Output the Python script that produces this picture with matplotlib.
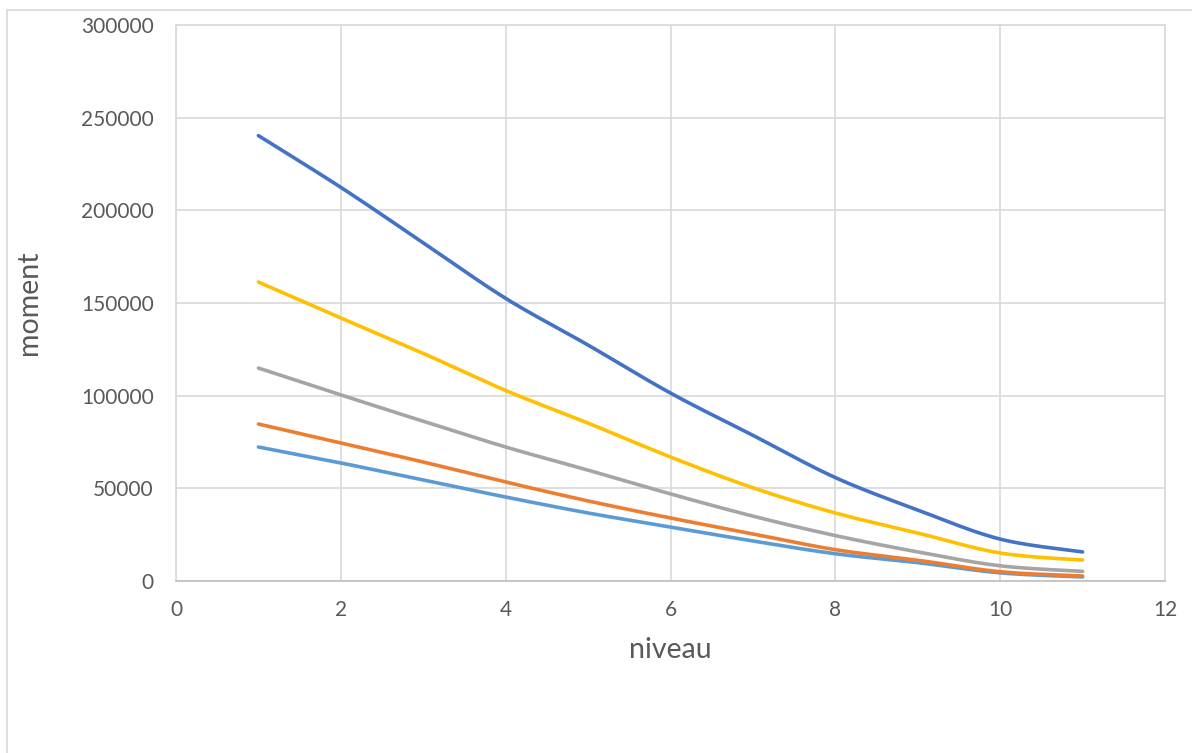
import numpy as np
import matplotlib
matplotlib.use("Agg")
import matplotlib.pyplot as plt
from matplotlib.lines import Line2D

niveau = [1, 2, 3, 4, 5, 6, 7, 8, 9, 10, 11]
s_darkblue = [240300, 212400, 182500, 152500, 127300, 101400, 78600, 55800, 38300, 22600, 15700]
s_yellow = [161300, 141900, 122800, 102800, 85200, 66900, 50300, 36700, 25900, 15100, 11300]
s_gray = [114900, 100400, 86200, 72300, 59800, 47000, 35000, 24500, 15700, 8200, 5200]
s_orange = [84700, 74500, 64200, 53400, 43200, 34000, 25400, 16900, 11200, 5000, 2700]
s_lightblue = [72300, 63700, 54500, 45300, 36700, 29100, 21600, 14700, 9900, 4400, 2200]

xticks = [0, 2, 4, 6, 8, 10, 12]
yticks = [0, 50000, 100000, 150000, 200000, 250000, 300000]

series = [
    (s_lightblue, "#5B9BD5"),
    (s_orange, "#ED7D31"),
    (s_gray, "#A5A5A5"),
    (s_yellow, "#FFC000"),
    (s_darkblue, "#4472C4"),
]

plt.rcParams['font.family'] = ['Lato', 'DejaVu Sans']


def smooth(x, y, n=30):
    # Excel-like smoothed line: cubic Bezier segments with Catmull-Rom control points
    x = np.asarray(x, float)
    y = np.asarray(y, float)
    px = np.concatenate([[x[0]], x, [x[-1]]])
    py = np.concatenate([[y[0]], y, [y[-1]]])
    xs, ys = [], []
    t = np.linspace(0, 1, n)
    for i in range(len(x) - 1):
        p0 = np.array([px[i + 1], py[i + 1]])
        p3 = np.array([px[i + 2], py[i + 2]])
        c1 = p0 + (np.array([px[i + 2], py[i + 2]]) - np.array([px[i], py[i]])) / 6
        c2 = p3 - (np.array([px[i + 3], py[i + 3]]) - np.array([px[i + 1], py[i + 1]])) / 6
        b = ((1 - t) ** 3)[:, None] * p0 + (3 * (1 - t) ** 2 * t)[:, None] * c1 \
            + (3 * (1 - t) * t ** 2)[:, None] * c2 + (t ** 3)[:, None] * p3
        xs.append(b[:, 0])
        ys.append(b[:, 1])
    return np.concatenate(xs), np.concatenate(ys)


fig = plt.figure(figsize=(11.92, 7.53), dpi=100)
ax = fig.add_axes([176 / 1192, 1 - 581 / 753, (1165 - 176) / 1192, (581 - 25) / 753])

for vals, col in series:
    sx, sy = smooth(niveau, vals)
    ax.plot(sx, sy, color=col, lw=2.6, solid_capstyle="round", zorder=3)

ax.set_xlim(0, 12)
ax.set_ylim(0, 300000)
ax.set_xticks(xticks)
ax.set_yticks(yticks)
ax.set_xticklabels([str(v) for v in xticks])
ax.set_yticklabels([str(v) for v in yticks])
ax.grid(True, color="#D9D9D9", lw=1.2, zorder=0)
ax.set_axisbelow(True)
for side in ["top", "left", "right"]:
    ax.spines[side].set_color("#D9D9D9")
    ax.spines[side].set_linewidth(1.2)
ax.spines["bottom"].set_color("#BFBFBF")
ax.spines["bottom"].set_linewidth(1.2)
ax.tick_params(length=0, labelsize=15, labelcolor="#595959")
ax.tick_params(axis="y", pad=16)
ax.tick_params(axis="x", pad=14)
ax.set_xlabel("niveau", fontsize=20.5, color="#595959", labelpad=12)
ax.set_ylabel("moment", fontsize=20.5, color="#595959", labelpad=28)

# chart area border
fig.add_artist(Line2D([7 / 1192, 7 / 1192], [0, 1 - 10 / 753], transform=fig.transFigure,
                      color="#D9D9D9", lw=1.2))
fig.add_artist(Line2D([7 / 1192, 1], [1 - 10 / 753, 1 - 10 / 753], transform=fig.transFigure,
                      color="#D9D9D9", lw=1.2))

fig.savefig("out.png", dpi=100)
